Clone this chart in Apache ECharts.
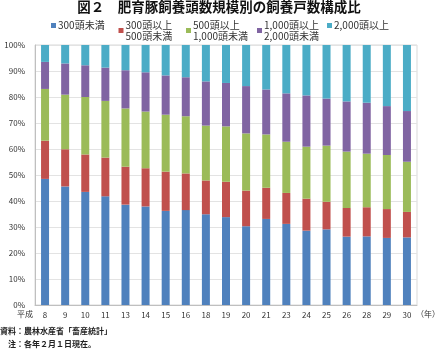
<!DOCTYPE html>
<html><head><meta charset="utf-8">
<script src="https://cdn.jsdelivr.net/npm/echarts@6/dist/echarts.min.js"></script>
<style>html,body{margin:0;padding:0;background:#fff}#c{width:438px;height:351px}</style>
</head><body><div id="c"></div>
<script>
const categories = ['8','9','10','11','13','14','15','16','18','19','20','21','23','24','25','26','28','29','30'];
const seriesNames = ['300頭未満','300頭以上\n500頭未満','500頭以上\n1,000頭未満','1,000頭以上\n2,000頭未満','2,000頭以上'];
const under300   = [48.5,45.6,43.5,41.8,38.6,37.9,36.2,36.5,34.9,33.8,30.3,33.1,31.2,28.6,29.1,26.3,26.4,25.8,26.0];
const from300    = [14.7,14.3,14.4,14.9,14.6,14.7,15.1,14.1,13.0,13.6,13.7,12.0,11.9,12.3,10.6,11.0,11.2,11.1,9.8];
const from500    = [19.9,21.0,22.1,21.8,22.4,21.8,21.9,22.0,21.1,21.3,22.0,20.5,19.7,20.0,21.6,21.7,20.6,20.8,19.3];
const from1000   = [10.4,12.0,12.2,12.8,14.7,15.1,15.1,15.0,17.0,16.7,18.2,17.3,18.6,19.7,18.1,19.3,19.6,18.8,19.5];
const over2000   = [6.5,7.1,7.8,8.7,9.7,10.5,11.7,12.4,14.0,14.6,15.8,17.1,18.6,19.4,20.6,21.7,22.2,23.5,25.4];
const colors = ['#4F81BD','#C0504D','#9BBB59','#8064A2','#4BACC6'];
const FONT = '"Noto Sans CJK JP", "Noto Sans", sans-serif';

const legendTextStarts = [58, 125.5, 193, 264, 334];
const seriesData = [under300, from300, from500, from1000, over2000];

const legends = seriesNames.map((n, i) => {
  const two = n.indexOf('\n') >= 0;
  return {
    left: legendTextStarts[i] - 7,
    top: two ? 14 : 20,
    padding: 0,
    itemWidth: 5,
    itemHeight: 5,
    icon: 'rect',
    selectedMode: false,
    data: [{name: n}],
    textStyle: {
      fontFamily: FONT, fontSize: 10, color: '#333', lineHeight: 11,
      padding: two ? [11, 0, 0, -3] : [0, 0, 0, -3]
    }
  };
});

const chart = echarts.init(document.getElementById('c'), null, {renderer: 'canvas'});
chart.setOption({
  animation: false,
  color: colors,
  title: {
    text: '図２　肥育豚飼養頭数規模別の飼養戸数構成比',
    left: 'center', top: 0, padding: 0,
    textStyle: {fontFamily: FONT, fontSize: 13.5, fontWeight: 'bold', color: '#111'}
  },
  legend: legends,
  grid: {left: 35, right: 21, top: 45, bottom: 46, show: true, borderColor: '#d9d9d9', borderWidth: 1},
  xAxis: {
    type: 'category', data: categories,
    axisLine: {lineStyle: {color: '#bfbfbf'}},
    axisTick: {show: false},
    axisLabel: {fontFamily: FONT, fontSize: 8, color: '#333', margin: 6}
  },
  yAxis: {
    type: 'value', min: 0, max: 100, interval: 10,
    axisLine: {show: true, lineStyle: {color: '#bfbfbf'}},
    axisTick: {show: false},
    splitLine: {lineStyle: {color: '#e3e3e3'}},
    axisLabel: {formatter: '{value}%', fontFamily: FONT, fontSize: 8, color: '#333', margin: 10}
  },
  series: seriesNames.map((n, i) => ({
    name: n, type: 'bar', stack: 'total', barWidth: 8,
    data: seriesData[i],
    itemStyle: {color: colors[i]}
  })),
  graphic: [
    {type: 'text', left: 17, top: 310, style: {text: '平成', font: '8px ' + FONT, fill: '#333'}},
    {type: 'text', left: 416, top: 310, style: {text: '（年）', font: '8px ' + FONT, fill: '#333'}},
    {type: 'text', left: 0, top: 327, style: {text: '資料：農林水産省「畜産統計」', font: 'bold 8px ' + FONT, fill: '#222'}},
    {type: 'text', left: 8, top: 340, style: {text: '注：各年２月１日現在。', font: 'bold 8px ' + FONT, fill: '#222'}}
  ]
});
</script></body></html>
